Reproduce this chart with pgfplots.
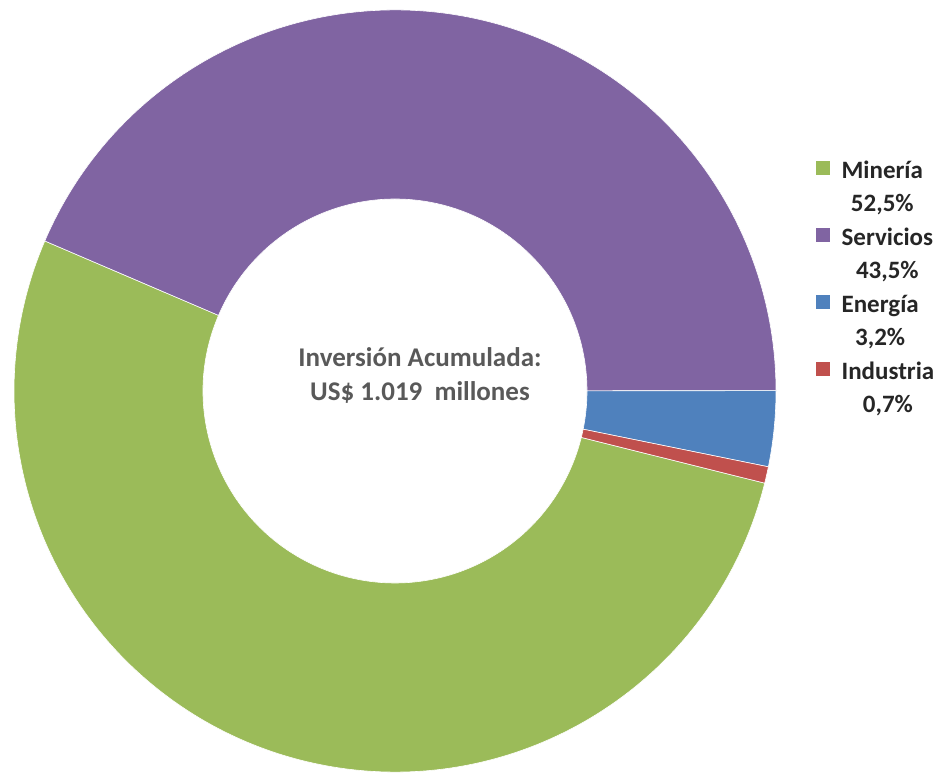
\documentclass[border=0pt]{standalone}
\usepackage{pgfplots}
\pgfplotsset{compat=1.18}
\usepackage{pgfplotstable}
\usepackage{fontspec}
\usepackage{calc}
\setmainfont{Carlito}

\definecolor{mineria}{HTML}{9BBB59}
\definecolor{servicios}{HTML}{8064A2}
\definecolor{energia}{HTML}{4F81BD}
\definecolor{industria}{HTML}{C0504D}
\definecolor{legendtext}{HTML}{262626}
\definecolor{centertext}{HTML}{595959}

% share of accumulated investment, in percent
\pgfplotstableread{
sector     value  color
Mineria    52.5   mineria
Servicios  43.5   servicios
Energia    3.2    energia
Industria  0.7    industria
}\sectors

\begin{document}
\begin{tikzpicture}
\begin{axis}[
  width=948bp, height=775bp, scale only axis,
  hide axis, clip=false,
  xmin=0, xmax=948, ymin=0, ymax=775,
  legend cell align=left,
  legend style={at={(axis cs:816,615)}, anchor=north west,
    draw=none, fill=none, inner sep=0pt,
    font=\fontsize{25bp}{30bp}\selectfont\bfseries, text=legendtext,
    nodes={inner sep=0pt, text height=18bp, text depth=5bp},
    row sep=10.5bp,
    /tikz/every odd column/.append style={column sep=12bp}},
]
% donut: slices go clockwise, first slice at 104 deg from 12 o'clock
\pgfmathsetmacro\total{99.9}
\def\cx{395}\def\cy{384}\def\Rout{381}\def\Rin{192}
\pgfmathsetmacro\cur{90-104}
\pgfplotsforeachungrouped \row in {0,...,3}{%
  \pgfplotstablegetelem{\row}{value}\of\sectors \let\val\pgfplotsretval
  \pgfplotstablegetelem{\row}{color}\of\sectors \let\slicecolor\pgfplotsretval
  \pgfmathsetmacro\nxt{\cur-\val/\total*360}
  \edef\doslice{\noexpand\fill[\slicecolor, draw=white, line width=0.6bp]
    (axis cs:{\cx+\Rout*cos(\cur)},{\cy+\Rout*sin(\cur)})
    arc[start angle=\cur, end angle=\nxt, radius=\Rout bp]
    -- (axis cs:{\cx+\Rin*cos(\nxt)},{\cy+\Rin*sin(\nxt)})
    arc[start angle=\nxt, end angle=\cur, radius=\Rin bp] -- cycle;}%
  \doslice
  \let\cur\nxt
}

\addlegendimage{legend image code/.code={\fill[mineria] (0bp,-3bp) rectangle (13bp,10bp);}}
\addlegendentry{Minería}
\addlegendimage{empty legend}
\addlegendentry{\makebox[\widthof{Minería}][c]{52,5\%}}
\addlegendimage{legend image code/.code={\fill[servicios] (0bp,-3bp) rectangle (13bp,10bp);}}
\addlegendentry{Servicios}
\addlegendimage{empty legend}
\addlegendentry{\makebox[\widthof{Servicios}][c]{43,5\%}}
\addlegendimage{legend image code/.code={\fill[energia] (0bp,-3bp) rectangle (13bp,10bp);}}
\addlegendentry{Energía}
\addlegendimage{empty legend}
\addlegendentry{\makebox[\widthof{Energía}][c]{3,2\%}}
\addlegendimage{legend image code/.code={\fill[industria] (0bp,-3bp) rectangle (13bp,10bp);}}
\addlegendentry{Industria}
\addlegendimage{empty legend}
\addlegendentry{\makebox[\widthof{Industria}][c]{0,7\%}}

\node[align=center, inner sep=0pt, text=centertext,
  font=\fontsize{27bp}{34bp}\selectfont\bfseries]
  at (axis cs:420,400) {Inversión Acumulada:\\US\$ 1.019\ \ millones};
\end{axis}
% Bezier control points of the arcs stick out; keep the page to the axis box
\pgfresetboundingbox
\path (current axis.south west) rectangle (current axis.north east);
\end{tikzpicture}
\end{document}
